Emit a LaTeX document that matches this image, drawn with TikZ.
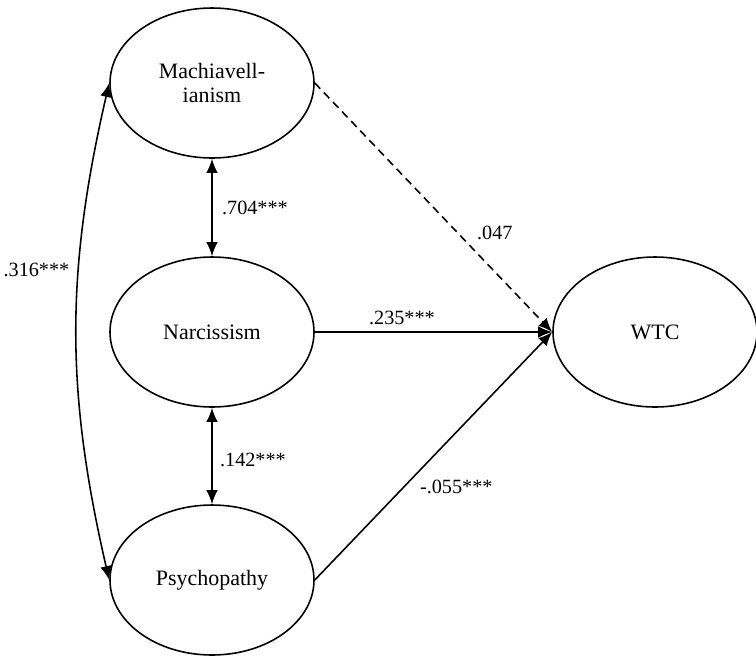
\documentclass[tikz,border=0pt]{standalone}
\usepackage{fontspec}
\setmainfont{Liberation Serif}
\usepackage{tikz}
\usetikzlibrary{positioning}
\usetikzlibrary{arrows,arrows.meta,shapes}
\usetikzlibrary{calc}
\tikzstyle{latent}=[ellipse,draw,line width=0.9pt,minimum width=4.08cm,minimum height=3.0cm,inner sep=0pt,align=center,font=\fontsize{12.5}{14}\selectfont]
\tikzstyle{weight} = [font=\fontsize{11.5}{13}\selectfont,inner sep=1pt]
\tikzstyle{path} = [line width=0.9pt,-{Latex[length=2.8mm,width=2.3mm]}]
\tikzstyle{cov} = [line width=0.9pt,{Latex[length=2.8mm,width=2.3mm]}-{Latex[length=2.8mm,width=2.3mm]}]

\begin{document}
\begin{tikzpicture}

\useasboundingbox (0,0) rectangle (15.12,-13.12);

%latent variables
    \foreach \pos/\name/\label in {{(4.24,-1.66)/mach/{Machiavell-\\ianism}}, {(4.24,-6.64)/narc/Narcissism}, {(4.24,-11.6)/psych/Psychopathy}, {(13.1,-6.64)/wtc/WTC}}
        \node[latent] (\name) at \pos {\label};

%correlations
  \foreach \source/ \dest in {mach/narc, narc/psych}
          \draw[cov] (\source) -- (\dest);
  \draw[cov] (mach.west) to[out=257,in=103] (psych.west);

%paths
  \draw[path, dash pattern=on 4.5pt off 3pt] (mach.east) -- (wtc.west);
  \foreach \source/ \dest in {narc/wtc, psych/wtc}
          \draw[path] (\source.east) -- (\dest.west);

%weights
  \foreach \pos/\name/\weight in {{(0.03,-5.4)/wmp/.316***}, {(4.4,-4.16)/wmn/.704***}, {(4.36,-9.2)/wnp/.142***}, {(9.5,-4.66)/wmw/.047}, {(7.34,-6.36)/wnw/.235***}, {(8.36,-9.74)/wpw/-.055***}}
        \node[weight, anchor=west] (\name) at \pos {\weight};

\end{tikzpicture}
\end{document}
